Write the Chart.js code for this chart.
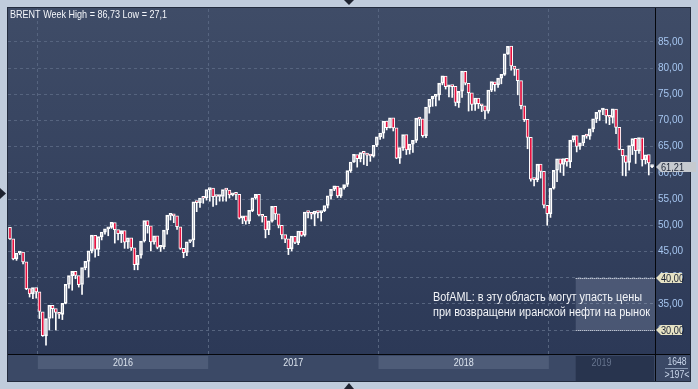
<!DOCTYPE html>
<html>
<head>
<meta charset="utf-8">
<script src="https://cdn.jsdelivr.net/npm/chart.js@4.4.1/dist/chart.umd.min.js"></script>
<style>
html, body { margin: 0; padding: 0; background: #c0ccdc; }
canvas { display: block; }
</style>
</head>
<body>
<canvas id="brentChart" width="698" height="389"></canvas>
<script>
/* ================= DATA ================= */
// weekly BRENT bars, first = week of 2 Nov 2015, last = current week
var opens = [
    49.6, 47.4, 43.6, 44.7, 44.9, 43.0, 37.9, 36.9, 38.1,
    37.3, 33.5, 28.9, 32.2, 34.7, 34.1, 33.4, 33.0, 35.1, 38.7, 40.4, 41.2, 40.4, 38.7, 41.9, 43.1, 45.1, 48.1, 45.4, 47.8,
    48.7, 49.3, 49.6, 50.5, 49.2, 48.4, 49.0, 46.8, 47.6, 45.7, 42.5, 44.3, 47.0, 50.9, 49.9, 46.8, 48.0, 45.8, 45.9, 49.1,
    51.9, 51.9, 51.8, 49.7, 45.6, 44.8, 46.9, 47.2, 54.5, 54.3, 55.2, 55.2,
    56.8, 57.1, 55.5, 55.5, 55.5, 56.8, 56.7, 55.8, 56.0, 55.9, 51.4, 51.8, 50.8, 52.8, 55.2, 55.9, 52.0, 51.7, 49.1, 50.8,
    53.6, 52.2, 50.0, 48.2, 47.4, 45.5, 47.9, 46.7, 48.9, 48.1, 52.5, 52.4, 52.1, 52.7, 52.4, 52.8, 53.8, 55.6, 56.9, 57.5,
    55.6, 57.2, 57.8, 60.4, 62.1, 63.5, 62.7, 63.9, 63.7, 63.4, 63.2, 65.3,
    66.9, 67.6, 69.9, 68.6, 70.5, 68.6, 62.8, 64.8, 67.3, 64.4, 65.5, 66.2, 70.5, 70.3, 67.1, 72.6, 74.1, 74.6, 74.9, 77.1,
    78.5, 76.4, 76.8, 76.5, 73.4, 75.6, 79.4, 77.1, 75.3, 73.1, 74.3, 73.2, 72.8, 71.8, 75.8, 77.4, 76.8, 78.1, 78.8, 82.7,
    84.2, 80.4, 79.8, 77.6, 72.8, 70.2, 66.8, 58.8, 58.7, 61.7, 60.3, 53.8,
    52.2, 57.1, 60.5, 62.7, 61.6, 62.8, 62.1, 66.3, 67.1, 65.1, 65.7, 67.2, 67.0, 68.4, 70.3, 71.6, 72.0, 72.2, 70.9, 70.6,
    72.2, 68.7, 64.5, 63.3, 62.0, 65.2, 66.6, 64.2, 66.7, 62.5, 63.5, 61.2
];
var highs = [
    50.9, 48.4, 45.2, 46.4, 45.3, 43.3, 38.9, 38.2, 38.6,
    38.0, 34.0, 32.4, 36.0, 35.6, 34.6, 35.6, 35.9, 39.0, 41.2, 42.5, 42.0, 41.0, 42.0, 44.5, 45.9, 48.5, 48.3, 48.1, 49.5,
    50.5, 50.6, 52.9, 51.3, 51.3, 50.8, 50.5, 48.6, 47.9, 45.9, 44.3, 47.1, 51.2, 51.2, 50.0, 49.9, 48.6, 48.3, 50.0, 52.6,
    53.7, 52.8, 52.3, 49.9, 47.0, 47.7, 49.9, 54.5, 55.4, 57.9, 55.9, 57.1,
    58.4, 57.3, 56.3, 56.3, 57.3, 57.2, 57.2, 57.1, 56.8, 56.4, 52.5, 52.5, 53.8, 55.6, 56.7, 56.0, 52.2, 52.0, 51.0, 53.7,
    54.7, 52.5, 50.4, 48.7, 47.5, 48.0, 50.0, 49.0, 50.1, 52.7, 53.0, 53.0, 52.8, 53.0, 53.1, 54.9, 56.0, 56.7, 59.5, 57.7,
    57.3, 58.5, 60.5, 62.3, 64.7, 64.2, 64.0, 64.0, 64.1, 65.8, 65.4, 67.1,
    68.3, 70.1, 70.4, 71.3, 70.6, 68.8, 64.9, 67.5, 67.8, 66.1, 66.4, 70.6, 71.3, 70.5, 72.7, 74.8, 75.5, 75.3, 78.0, 80.5,
    80.0, 78.0, 77.5, 77.5, 75.8, 79.5, 79.7, 79.1, 75.3, 75.3, 75.4, 75.0, 73.5, 76.1, 78.2, 78.5, 80.1, 79.9, 83.0, 86.73,
    85.5, 81.5, 80.3, 77.9, 73.8, 72.0, 67.5, 61.3, 63.0, 62.2, 61.3, 55.0,
    57.3, 61.9, 62.8, 63.0, 62.9, 63.8, 66.4, 67.5, 67.7, 66.8, 67.4, 68.7, 68.7, 70.4, 71.8, 72.3, 75.6, 73.0, 71.4, 73.0,
    73.0, 70.3, 64.7, 63.6, 65.4, 67.3, 66.8, 67.4, 67.0, 64.1, 65.2, 61.5
];
var lows = [
    47.3, 43.4, 43.3, 44.4, 42.6, 37.7, 36.3, 36.0, 36.1,
    32.2, 28.8, 27.1, 30.0, 32.3, 30.0, 32.2, 32.0, 35.0, 38.0, 37.6, 39.8, 38.2, 36.8, 41.5, 40.1, 44.7, 43.9, 44.2, 47.2,
    48.3, 48.0, 49.4, 46.6, 47.2, 46.7, 45.6, 45.6, 45.2, 41.5, 41.5, 43.7, 46.8, 48.5, 45.1, 46.4, 45.5, 45.0, 45.5, 48.3,
    51.0, 50.5, 49.2, 45.4, 43.8, 44.2, 46.7, 45.9, 52.6, 53.4, 54.2, 54.8,
    54.6, 53.6, 53.9, 54.6, 54.6, 54.6, 55.2, 55.6, 54.9, 51.2, 50.3, 50.2, 50.3, 52.6, 55.0, 51.8, 50.6, 47.6, 48.2, 50.6,
    51.1, 49.5, 47.4, 46.7, 44.4, 45.1, 46.5, 46.3, 47.9, 47.9, 51.4, 51.2, 49.9, 51.4, 50.8, 52.6, 53.3, 55.0, 56.6, 55.3,
    55.3, 56.9, 57.4, 60.1, 62.0, 61.1, 62.1, 61.6, 61.4, 62.2, 63.0, 65.0,
    66.4, 66.6, 68.2, 68.6, 68.0, 62.7, 61.8, 64.3, 63.5, 63.6, 63.9, 65.8, 69.0, 66.8, 66.7, 71.4, 72.7, 72.8, 73.9, 76.8,
    76.0, 74.5, 74.4, 72.8, 72.5, 74.4, 76.8, 71.8, 71.9, 71.9, 72.3, 71.7, 70.3, 71.4, 75.5, 75.6, 76.3, 77.0, 78.6, 82.6,
    79.6, 78.6, 74.9, 72.2, 69.8, 64.6, 58.4, 57.5, 58.3, 59.0, 53.3, 50.0,
    51.5, 56.9, 58.3, 60.1, 59.5, 61.3, 61.0, 65.9, 64.0, 64.5, 65.2, 66.6, 66.4, 67.8, 69.6, 70.0, 71.1, 69.5, 69.2, 69.5,
    67.5, 64.4, 59.5, 59.4, 60.5, 63.5, 61.8, 63.7, 61.3, 61.7, 59.6, 61.0
];
var closes = [
    47.4, 43.6, 44.7, 44.9, 43.0, 37.9, 36.9, 38.1, 37.3,
    33.55, 28.94, 32.18, 34.74, 34.06, 33.36, 33.01, 35.10, 38.72, 40.39, 41.20, 40.44, 38.67, 41.94, 43.10, 45.11, 48.13, 45.37, 47.83, 48.72,
    49.32, 49.64, 50.54, 49.17, 48.41, 48.99, 46.76, 47.61, 45.69, 42.46, 44.27, 46.97, 50.88, 49.92, 46.83, 47.98, 45.77, 45.89, 49.06, 51.93,
    51.95, 51.78, 49.71, 45.58, 44.75, 46.86, 47.24, 54.46, 54.33, 55.21, 55.16, 56.82,
    57.10, 55.45, 55.49, 55.52, 56.81, 56.70, 55.81, 55.99, 55.90, 51.37, 51.76, 50.80, 52.83, 55.24, 55.89, 51.96, 51.73, 49.10, 50.84, 53.61,
    52.15, 49.95, 48.15, 47.37, 45.54, 47.92, 46.71, 48.91, 48.06, 52.52, 52.42, 52.10, 52.72, 52.41, 52.75, 53.78, 55.62, 56.86, 57.54, 55.62,
    57.17, 57.75, 60.44, 62.07, 63.52, 62.72, 63.86, 63.73, 63.40, 63.23, 65.25, 66.87,
    67.62, 69.87, 68.61, 70.52, 68.58, 62.79, 64.84, 67.31, 64.37, 65.49, 66.21, 70.45, 70.27, 67.11, 72.58, 74.06, 74.64, 74.87, 77.12, 78.51,
    76.44, 76.79, 76.46, 73.44, 75.55, 79.44, 77.11, 75.33, 73.07, 74.29, 73.21, 72.81, 71.83, 75.82, 77.42, 76.83, 78.09, 78.80, 82.72, 84.16,
    80.43, 79.78, 77.62, 72.83, 70.18, 66.76, 58.80, 58.71, 61.67, 60.28, 53.82, 52.20,
    57.06, 60.48, 62.70, 61.64, 62.75, 62.10, 66.25, 67.12, 65.07, 65.74, 67.16, 67.03, 68.39, 70.34, 71.55, 71.97, 72.15, 70.85, 70.62, 72.21,
    68.69, 64.49, 63.29, 62.01, 65.20, 66.55, 64.23, 66.72, 62.47, 63.46, 61.89, 61.21
];
var titleText = "BRENT Week High = 86,73 Low = 27,1";
var priceTicks = [30, 35, 40, 45, 50, 55, 60, 65, 70, 75, 80, 85];
var yearLabels = ["2016", "2017", "2018", "2019"];
var yearStarts = [8.5, 60.5, 112.5, 164.5];
var yearEnds = [60.5, 112.5, 164.5, 196.9];
var lastPrice = 61.21;
var zoneLevels = [40, 30];
var zoneStart = 172.7;
var noteLines = [
    "BofAML: в эту область могут упасть цены",
    "при возвращени иранской нефти на рынок"
];
var barInfo = ["1648", ">197<"];

/* ================= COLORS ================= */
var RED = "#e6103e";
var GRID = "#56647f";
var FONT = "'Liberation Sans', Arial, sans-serif";

/* ================= HELPERS ================= */
function fmt(v) {
    return v.toFixed(2).replace(".", ",");
}
function fitText(ctx, text, x, y, width, size, color, align) {
    ctx.save();
    ctx.font = size + "px " + FONT;
    ctx.fillStyle = color;
    ctx.textBaseline = "middle";
    ctx.textAlign = "left";
    var w = ctx.measureText(text).width;
    var left = align === "center" ? x - width / 2 : x;
    ctx.translate(left, y);
    ctx.scale(width / w, 1);
    ctx.fillText(text, 0, 0);
    ctx.restore();
}
function tri(ctx, pts, color) {
    ctx.beginPath();
    ctx.moveTo(pts[0], pts[1]);
    ctx.lineTo(pts[2], pts[3]);
    ctx.lineTo(pts[4], pts[5]);
    ctx.closePath();
    ctx.fillStyle = color;
    ctx.fill();
}
function priceTag(ctx, y, text, fill, w) {
    var x0 = 656;
    ctx.beginPath();
    ctx.moveTo(x0, y);
    ctx.lineTo(x0 + 5, y - 5);
    ctx.lineTo(x0 + 5 + w, y - 5);
    ctx.lineTo(x0 + 5 + w, y + 5);
    ctx.lineTo(x0 + 5, y + 5);
    ctx.closePath();
    ctx.fillStyle = fill;
    ctx.fill();
    fitText(ctx, text, x0 + 5, y + 0.5, 23, 11, "#1a2233");
}

/* ================= BUILD SERIES ================= */
var lowerWick = [], upperWick = [], bodies = [], bodyColors = [];
for (var i = 0; i < closes.length; i++) {
    var top = Math.max(opens[i], closes[i]);
    var bot = Math.min(opens[i], closes[i]);
    lowerWick.push({ x: i, y: [lows[i], bot] });
    upperWick.push({ x: i, y: [top, highs[i]] });
    bodies.push({ x: i, y: [opens[i], closes[i]] });
    bodyColors.push(closes[i] < opens[i] ? RED : "rgba(0,0,0,0)");
}

/* ================= PLUGINS ================= */
var panelPlugin = {
    id: "panel",
    beforeDraw: function (chart) {
        var ctx = chart.ctx;
        var xs = chart.scales.x;
        ctx.save();
        ctx.fillStyle = "#c0ccdc";
        ctx.fillRect(0, 0, 698, 389);
        var g = ctx.createLinearGradient(0, 8, 0, 354);
        g.addColorStop(0, "#3f4c67");
        g.addColorStop(1, "#2c3957");
        ctx.fillStyle = g;
        ctx.fillRect(8, 8, 682, 346);
        // year strip
        ctx.fillStyle = "#3b4966";
        ctx.fillRect(8, 355, 682, 26);
        ctx.fillStyle = "#4e5c78";
        [0, 2].forEach(function (k) {
            var a = xs.getPixelForValue(yearStarts[k]);
            var b = xs.getPixelForValue(yearEnds[k]);
            ctx.fillRect(a, 356, b - a, 13);
        });
        ctx.fillStyle = "#28344e";
        var z = xs.getPixelForValue(zoneStart);
        ctx.fillRect(z, 356, 654 - z, 25);
        ctx.restore();
    },
    afterDraw: function (chart) {
        var ctx = chart.ctx;
        var xs = chart.scales.x;
        var ys = chart.scales.y;
        var area = chart.chartArea;
        ctx.save();
        // forecast zone
        var zx = xs.getPixelForValue(zoneStart);
        var y40 = ys.getPixelForValue(zoneLevels[0]);
        var y30 = ys.getPixelForValue(zoneLevels[1]);
        ctx.fillStyle = "rgba(190,200,225,0.2)";
        ctx.fillRect(zx, y40, area.right - zx, y30 - y40);
        ctx.strokeStyle = "#e8ecf4";
        ctx.lineWidth = 1;
        ctx.setLineDash([1, 1]);
        [y40, y30].forEach(function (yy) {
            ctx.beginPath();
            ctx.moveTo(zx, Math.round(yy) + 0.5);
            ctx.lineTo(area.right, Math.round(yy) + 0.5);
            ctx.stroke();
        });
        ctx.setLineDash([]);
        // note
        fitText(ctx, noteLines[0], 433, 298, 209, 12, "#f2f4f8");
        fitText(ctx, noteLines[1], 433, 313, 217, 12, "#f2f4f8");
        // title
        fitText(ctx, titleText, 10, 15, 157, 11, "#f4f6fa");
        // separators
        ctx.fillStyle = "#05070c";
        ctx.fillRect(8, 354, 682, 1);
        ctx.fillRect(655, 8, 1, 373);
        ctx.strokeStyle = "#232c3e";
        ctx.strokeRect(7.5, 7.5, 683, 374);
        // price tags
        priceTag(ctx, Math.round(ys.getPixelForValue(lastPrice)), fmt(lastPrice), "#c6cacf", 35);
        priceTag(ctx, Math.round(y40), fmt(zoneLevels[0]), "#e6e2c4", 21);
        priceTag(ctx, Math.round(y30), fmt(zoneLevels[1]), "#e6e2c4", 21);
        // year labels
        yearLabels.forEach(function (t, k) {
            var a = xs.getPixelForValue(yearStarts[k]);
            var b = xs.getPixelForValue(Math.min(yearEnds[k], 196.6));
            fitText(ctx, t, (a + b) / 2, 363, 20, 11, k === 3 ? "#66748e" : "#dde5ef", "center");
        });
        // bar counter
        fitText(ctx, barInfo[0], 677, 362, 19, 11, "#c9d6ea", "center");
        ctx.fillStyle = "#8898b2";
        ctx.fillRect(665, 368, 23, 1);
        fitText(ctx, barInfo[1], 677, 375, 25, 11, "#c9d6ea", "center");
        // splitter arrows
        tri(ctx, [344, 0, 354, 0, 349, 5], "#1e2330");
        tri(ctx, [344, 389, 354, 389, 349, 383], "#1e2330");
        tri(ctx, [0, 188, 0, 199, 6, 193.5], "#1e2330");
        ctx.restore();
    }
};

/* ================= CHART ================= */
var barBase = {
    type: "bar",
    grouped: false,
    borderSkipped: false,
    barThickness: 1,
    backgroundColor: "#ffffff",
    borderWidth: 0
};
new Chart(document.getElementById("brentChart").getContext("2d"), {
    type: "bar",
    data: {
        datasets: [
            Object.assign({}, barBase, {
                label: "body",
                data: bodies,
                barThickness: 3,
                backgroundColor: bodyColors,
                borderColor: "#ffffff",
                borderWidth: 1,
                minBarLength: 2
            }),
            Object.assign({}, barBase, { label: "low", data: lowerWick }),
            Object.assign({}, barBase, { label: "high", data: upperWick })
        ]
    },
    options: {
        responsive: false,
        animation: false,
        events: [],
        layout: { padding: { left: 8, top: 8, right: 0, bottom: 35 } },
        plugins: { legend: { display: false }, tooltip: { enabled: false } },
        scales: {
            x: {
                type: "linear",
                offset: false,
                min: -0.6,
                max: 196.9,
                afterBuildTicks: function (s) {
                    s.ticks = yearStarts.map(function (v) { return { value: v }; });
                },
                afterFit: function (s) { s.height = 0; },
                ticks: { display: false },
                grid: { color: GRID, drawTicks: false, offset: false },
                border: { display: false, dash: [3, 3] }
            },
            y: {
                position: "right",
                min: 25.43,
                max: 91.28,
                afterBuildTicks: function (s) {
                    s.ticks = priceTicks.map(function (v) { return { value: v }; });
                },
                afterFit: function (s) { s.width = 43; },
                ticks: {
                    color: "#a6c6f0",
                    padding: 3,
                    font: { family: "'Liberation Sans', Arial, sans-serif", size: 10 },
                    callback: function (v) { return fmt(v); }
                },
                grid: { color: GRID, drawTicks: false },
                border: { display: false, dash: [3, 3] }
            }
        }
    },
    plugins: [panelPlugin]
});
</script>
</body>
</html>
